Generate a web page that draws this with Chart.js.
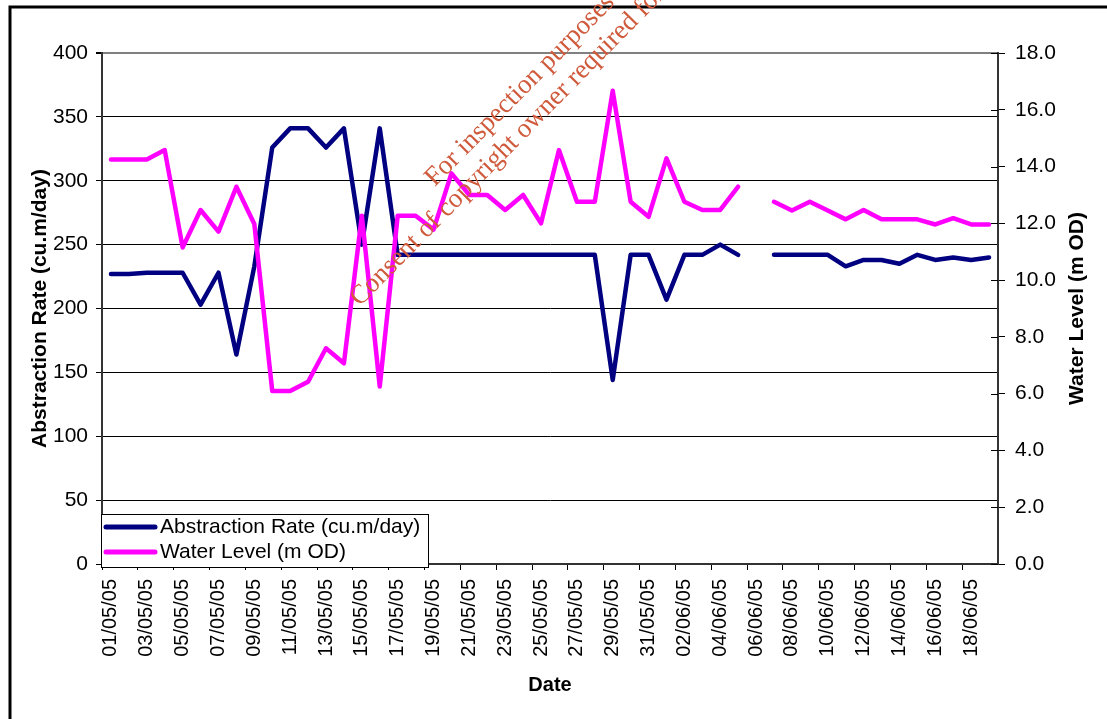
<!DOCTYPE html>
<html>
<head>
<meta charset="utf-8">
<title>Abstraction Rate and Water Level</title>
<script src="https://cdn.jsdelivr.net/npm/chart.js@4.4.1/dist/chart.umd.min.js"></script>
<style>
  html, body { margin: 0; padding: 0; background: #fff; }
  #wrap { position: relative; width: 1107px; height: 719px; }
</style>
</head>
<body>
<div id="wrap"><canvas id="levelChart"></canvas></div>
<script>
// Daily readings, 1 May - 19 June 2005 (06/06/05 missing)
const dates = [
    '01/05/05', '02/05/05', '03/05/05', '04/05/05', '05/05/05', '06/05/05', '07/05/05', '08/05/05', '09/05/05', '10/05/05',
    '11/05/05', '12/05/05', '13/05/05', '14/05/05', '15/05/05', '16/05/05', '17/05/05', '18/05/05', '19/05/05', '20/05/05',
    '21/05/05', '22/05/05', '23/05/05', '24/05/05', '25/05/05', '26/05/05', '27/05/05', '28/05/05', '29/05/05', '30/05/05',
    '31/05/05', '01/06/05', '02/06/05', '03/06/05', '04/06/05', '05/06/05', '06/06/05', '07/06/05', '08/06/05', '09/06/05',
    '10/06/05', '11/06/05', '12/06/05', '13/06/05', '14/06/05', '15/06/05', '16/06/05', '17/06/05', '18/06/05', '19/06/05'
];

// cu.m/day
const abstractionRate = [
    227, 227, 228, 228, 228, 203, 228, 164, 233, 326,
    341, 341, 326, 341, 250, 341, 242, 242, 242, 242,
    242, 242, 242, 242, 242, 242, 242, 242, 144, 242,
    242, 207, 242, 242, 250, 242, null, 242, 242, 242,
    242, 233, 238, 238, 235, 242, 238, 240, 238, 240
];

// m OD
const waterLevel = [
    14.25, 14.25, 14.25, 14.58, 11.15, 12.47, 11.71, 13.29, 11.98, 6.09,
    6.09, 6.42, 7.60, 7.07, 12.27, 6.25, 12.27, 12.27, 11.78, 13.76,
    13.00, 13.00, 12.47, 13.00, 12.00, 14.58, 12.76, 12.76, 16.67, 12.76,
    12.23, 14.29, 12.76, 12.47, 12.47, 13.29, null, 12.76, 12.45, 12.76,
    12.45, 12.14, 12.47, 12.14, 12.14, 12.14, 11.96, 12.18, 11.96, 11.96
];

const seriesNames = ['Abstraction Rate (cu.m/day)', 'Water Level (m OD)'];
const seriesColors = ['#000080', '#ff00ff'];
const watermarkLines = ['For inspection purposes only.', 'Consent of copyright owner required for any other use.'];

const FONT = '"Liberation Sans", Arial, sans-serif';

// Frame, right-hand title, legend box and the watermark are drawn by hand
const extras = {
    id: 'extras',
    afterDraw(chart) {
        const ctx = chart.ctx;
        const area = chart.chartArea;
        const y1 = chart.scales.y1;

        ctx.save();
        // outer frame (top and left edges only show)
        ctx.strokeStyle = '#000';
        ctx.lineWidth = 3;
        ctx.beginPath();
        ctx.moveTo(10, 719);
        ctx.lineTo(10, 7);
        ctx.lineTo(1110, 7);
        ctx.stroke();

        // right axis tick marks cross the axis
        ctx.lineWidth = 1;
        y1.ticks.forEach((t, i) => {
            const py = Math.round(y1.getPixelForTick(i)) + 0.5;
            ctx.beginPath();
            ctx.moveTo(area.right - 7, py);
            ctx.lineTo(area.right, py);
            ctx.stroke();
        });

        // right axis title reads bottom to top
        ctx.fillStyle = '#000';
        ctx.font = 'bold 21px ' + FONT;
        ctx.textAlign = 'center';
        ctx.textBaseline = 'middle';
        ctx.translate(1077, (area.top + area.bottom) / 2);
        ctx.rotate(-Math.PI / 2);
        ctx.fillText('Water Level (m OD)', 0, 0);
        ctx.restore();

        // legend in the bottom-left corner of the plot
        ctx.save();
        ctx.fillStyle = '#fff';
        ctx.fillRect(101, 514, 327, 53);
        ctx.strokeStyle = '#000';
        ctx.lineWidth = 1;
        ctx.strokeRect(101.5, 514.5, 327, 53);
        ctx.font = '21px ' + FONT;
        ctx.textAlign = 'left';
        ctx.textBaseline = 'middle';
        seriesNames.forEach((name, i) => {
            const ly = 527 + i * 25;
            ctx.strokeStyle = seriesColors[i];
            ctx.lineWidth = 5;
            ctx.lineCap = 'round';
            ctx.beginPath();
            ctx.moveTo(106, ly);
            ctx.lineTo(155, ly);
            ctx.stroke();
            ctx.fillStyle = '#000';
            ctx.fillText(name, 160, ly);
        });
        ctx.restore();

        // watermark
        ctx.save();
        ctx.fillStyle = '#cf5a3c';
        ctx.font = '27px "Liberation Serif", "Times New Roman", serif';
        ctx.textAlign = 'center';
        ctx.textBaseline = 'alphabetic';
        const ang = -45.5 * Math.PI / 180;
        [[546, 74], [568, 95]].forEach((p, i) => {
            ctx.save();
            ctx.translate(p[0], p[1]);
            ctx.rotate(ang);
            ctx.fillText(watermarkLines[i], 0, 0);
            ctx.restore();
        });
        ctx.restore();
    }
};

const ctxLevel = document.getElementById('levelChart').getContext('2d');

new Chart(ctxLevel, {
    type: 'line',
    data: {
        labels: dates,
        datasets: [
            {
                label: seriesNames[0],
                data: abstractionRate,
                borderColor: seriesColors[0],
                backgroundColor: seriesColors[0],
                borderWidth: 4.5,
                pointRadius: 0,
                tension: 0,
                borderJoinStyle: 'round',
                borderCapStyle: 'round',
                yAxisID: 'y',
                order: 2
            },
            {
                label: seriesNames[1],
                data: waterLevel,
                borderColor: seriesColors[1],
                backgroundColor: seriesColors[1],
                borderWidth: 4.5,
                pointRadius: 0,
                tension: 0,
                borderJoinStyle: 'round',
                borderCapStyle: 'round',
                yAxisID: 'y1',
                order: 1
            }
        ]
    },
    options: {
        responsive: true,
        maintainAspectRatio: false,
        animation: false,
        layout: { padding: { top: 53, left: 0, right: 0, bottom: 0 } },
        plugins: {
            legend: { display: false },
            tooltip: { enabled: false }
        },
        scales: {
            x: {
                offset: true,
                afterFit: s => { s.height = 155; },
                grid: {
                    offset: true,
                    drawOnChartArea: false,
                    tickLength: 6,
                    tickColor: c => (c.index % 2 === 0 ? '#000' : 'rgba(0,0,0,0)')
                },
                border: { color: '#333', width: 2 },
                ticks: {
                    autoSkip: false,
                    minRotation: 90,
                    maxRotation: 90,
                    padding: 9,
                    color: '#000',
                    font: { family: FONT, size: 20 },
                    callback: (v, i) => (i % 2 === 0 ? dates[i] : '')
                },
                title: {
                    display: true,
                    text: 'Date',
                    color: '#000',
                    font: { family: FONT, size: 20, weight: 'bold' },
                    padding: { top: 0, bottom: 22 }
                }
            },
            y: {
                position: 'left',
                min: 0,
                max: 400,
                afterFit: s => { s.width = 102; },
                grid: {
                    color: c => (c.tick && c.tick.value === 400 ? '#808080' : '#000'),
                    lineWidth: c => (c.tick && c.tick.value === 400 ? 2 : 1),
                    tickColor: '#000',
                    tickLength: 6
                },
                border: { color: '#333', width: 2 },
                ticks: {
                    stepSize: 50,
                    padding: 8,
                    color: '#000',
                    font: { family: FONT, size: 21 }
                },
                title: {
                    display: true,
                    text: 'Abstraction Rate (cu.m/day)',
                    color: '#000',
                    font: { family: FONT, size: 21, weight: 'bold' },
                    padding: { top: 28, bottom: 0 }
                }
            },
            y1: {
                position: 'right',
                min: 0,
                max: 18,
                afterFit: s => { s.width = 109; },
                grid: {
                    drawOnChartArea: false,
                    tickColor: '#000',
                    tickLength: 7
                },
                border: { color: '#333', width: 2 },
                ticks: {
                    stepSize: 2,
                    padding: 10,
                    color: '#000',
                    font: { family: FONT, size: 21 },
                    callback: v => v.toFixed(1)
                }
            }
        }
    },
    plugins: [extras]
});
</script>
</body>
</html>
